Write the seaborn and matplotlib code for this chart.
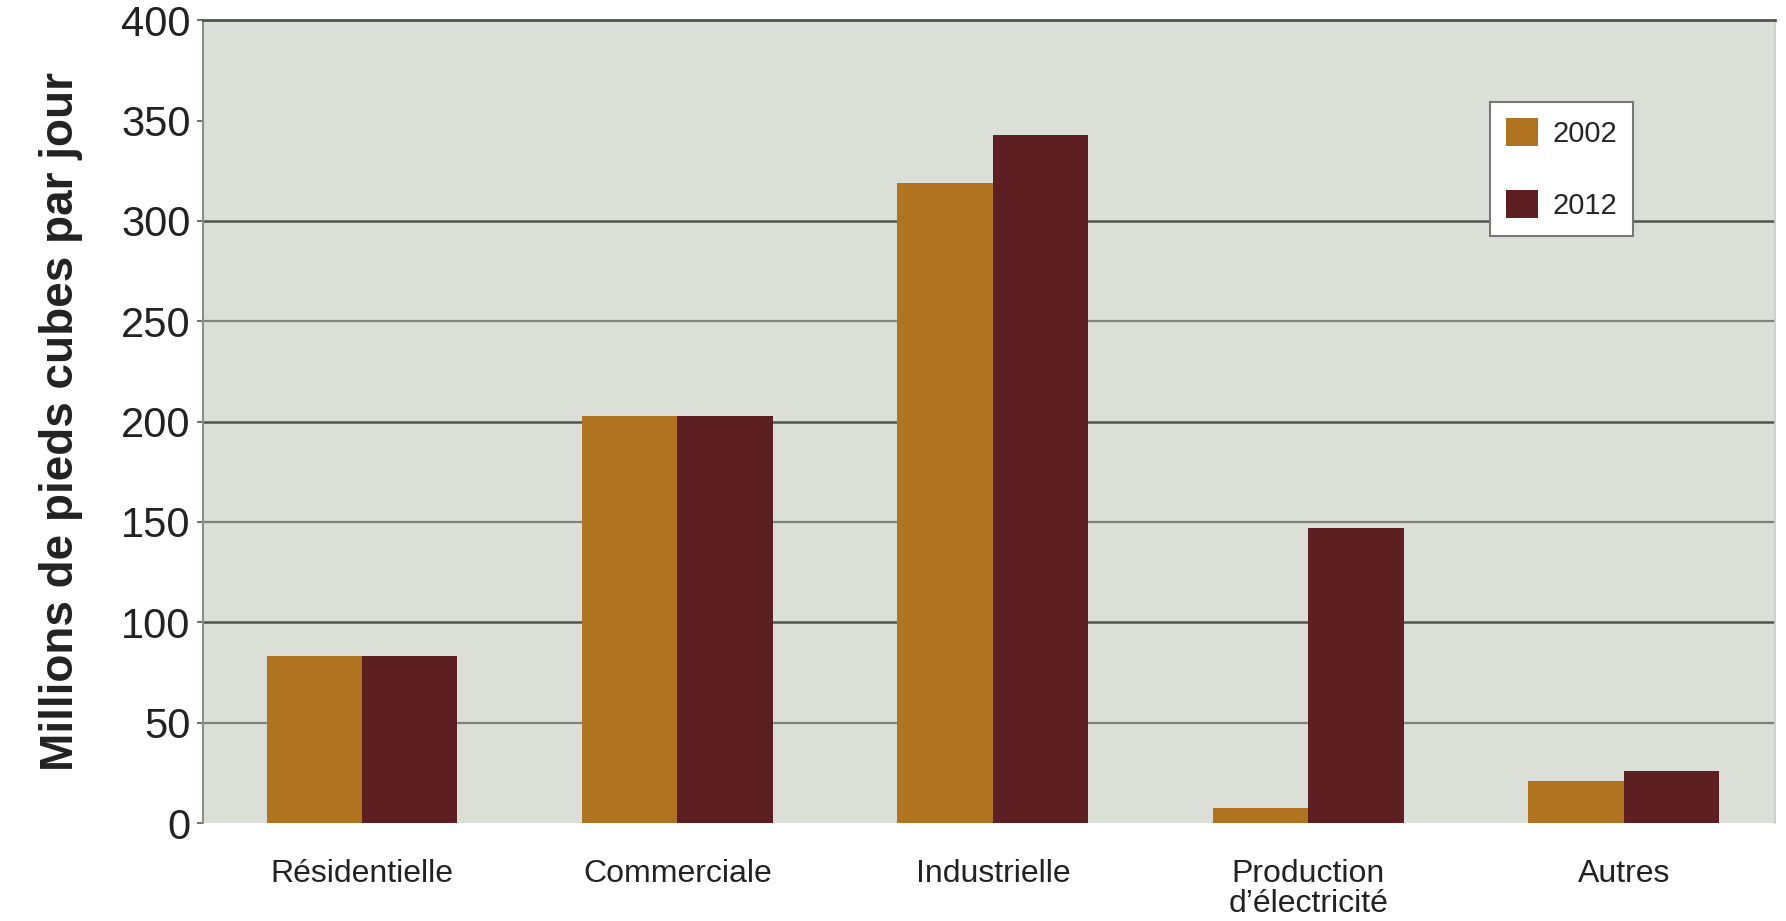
import matplotlib
matplotlib.use("Agg")
import matplotlib.pyplot as plt
import seaborn as sns
import pandas as pd

categories = ["Résidentielle", "Commerciale", "Industrielle", "Production\nd\u2019électricité", "Autres"]
years = ["2002", "2012"]
values_2002 = [83, 203, 319, 7.5, 21]
values_2012 = [83, 203, 343, 147, 26]
y_ticks = [0, 50, 100, 150, 200, 250, 300, 350, 400]
y_label = "Millions de pieds cubes par jour"

df = pd.DataFrame({
    "cat": categories * 2,
    "year": [years[0]] * len(categories) + [years[1]] * len(categories),
    "val": values_2002 + values_2012,
})

sns.set_theme(style="white")
plt.rcParams["font.family"] = ["Liberation Sans", "DejaVu Sans"]

fig = plt.figure(figsize=(17.86, 9.21), dpi=100)
ax = fig.add_axes([0.1137, 0.1064, 0.880, 0.978 - 0.1064])
ax.set_facecolor("#dcdfd8")

for yv in [50, 150, 250]:
    ax.axhline(yv, color="#7d837d", lw=1.6, zorder=0)
for yv in [100, 200, 300]:
    ax.axhline(yv, color="#4f554f", lw=1.8, zorder=0)

sns.barplot(data=df, x="cat", y="val", hue="year", hue_order=years,
            palette=["#b07421", "#5d1f21"], saturation=1, width=0.605,
            gap=0, ax=ax, legend=True, zorder=2, linewidth=0)

ax.set_xlim(-0.504, 4.479)
ax.set_ylim(0, 400)
ax.set_yticks(y_ticks)
ax.set_yticklabels([str(v) for v in y_ticks], fontsize=30, color="#222222")
ax.tick_params(axis="y", length=4, width=1.2, color="#555555", pad=5, left=True)
ax.tick_params(axis="x", length=0, pad=26, labelsize=23, labelcolor="#222222")
for lbl in ax.get_xticklabels():
    lbl.set_verticalalignment("top")
    lbl.set_linespacing(1.0)
ax.set_xlabel("")
ax.set_ylabel(y_label, fontsize=33, fontweight="bold", color="#222222", labelpad=27)

ax.spines["bottom"].set_visible(False)
ax.spines["right"].set_color("#c8cbc6")
ax.spines["right"].set_linewidth(1.2)
ax.spines["top"].set_color("#4f554f")
ax.spines["top"].set_linewidth(2)
ax.spines["left"].set_color("#8a8f8a")
ax.spines["left"].set_linewidth(1.5)

handles, labels = ax.get_legend_handles_labels()
ax.legend(handles, labels, loc="upper left", bbox_to_anchor=(0.834, 0.889),
          bbox_transform=fig.transFigure, fontsize=21, frameon=True,
          fancybox=False, shadow=False, edgecolor="#777777", facecolor="white",
          framealpha=1, labelspacing=1.45, handlelength=1.1, handleheight=1.1,
          handletextpad=0.5, borderpad=0.55, borderaxespad=0)
ax.get_legend().get_frame().set_linewidth(1.5)

fig.savefig("out.png", dpi=100, facecolor="white")
